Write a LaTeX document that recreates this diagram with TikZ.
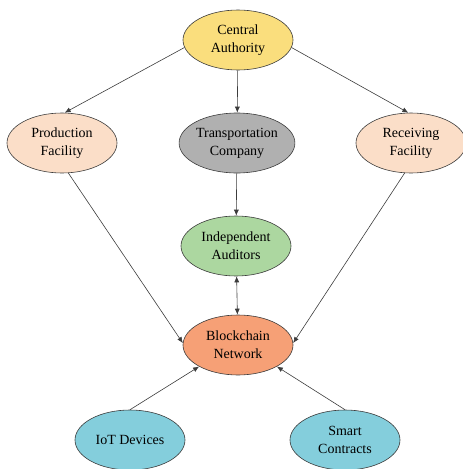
\documentclass[tikz,border=0pt]{standalone}
\usepackage{fontspec}
\setmainfont{Liberation Serif}
\usepackage{tikz}
\usetikzlibrary{
  arrows.meta,
  shapes.geometric
}
\usepackage{xcolor}
\definecolor{fillAuth}{RGB}{250, 222, 125}
\definecolor{fillFac}{RGB}{251, 222, 200}
\definecolor{fillTrans}{RGB}{176, 176, 176}
\definecolor{fillAud}{RGB}{172, 215, 160}
\definecolor{fillChain}{RGB}{246, 160, 118}
\definecolor{fillDev}{RGB}{132, 206, 220}
\definecolor{edgeclr}{RGB}{60, 60, 60}
\tikzset{
  % Ellips tugunlar
  party/.style   = {ellipse, draw=edgeclr, semithick, inner sep=0pt,
                    minimum width=110pt, minimum height=60pt,
                    align=center, font=\fontsize{14}{18}\selectfont},
  % Bog'lanishlar
  link/.style    = {-{Latex[length=6pt,width=5pt]}, semithick, edgeclr},
  twolink/.style = {{Latex[length=6pt,width=5pt]}-{Latex[length=6pt,width=5pt]}, semithick, edgeclr},
}
\begin{document}
\begin{tikzpicture}[x=1pt, y=-1pt]
  \useasboundingbox (0,0) rectangle (463,469);
  % Tugunlar
  \node[party, fill=fillAuth]  (auth)  at (238,40)  {Central\\Authority};
  \node[party, fill=fillFac]   (prod)  at (62,143)  {Production\\Facility};
  \node[party, fill=fillTrans] (trans) at (237,143) {Transportation\\Company};
  \node[party, fill=fillFac]   (recv)  at (411,143) {Receiving\\Facility};
  \node[party, fill=fillAud]   (aud)   at (236,246) {Independent\\Auditors};
  \node[party, fill=fillChain] (chain) at (238,345) {Blockchain\\Network};
  \node[party, fill=fillDev]   (iot)   at (130,440) {IoT Devices};
  \node[party, fill=fillDev]   (smart) at (345,440) {Smart\\Contracts};
  % Strelkalar
  \draw[link] (auth.188) -- (prod.85);
  \draw[link] (auth) -- (trans);
  \draw[link] (auth.352) -- (recv.95);
  \draw[link] (trans) -- (aud);
  \draw[twolink] (aud) -- (chain);
  \draw[link] (prod.282) -- (chain.178);
  \draw[link] (recv.258) -- (chain.2);
  \draw[link] (iot.north) -- (chain.209);
  \draw[link] (smart.north) -- (chain.331);
\end{tikzpicture}
\end{document}
